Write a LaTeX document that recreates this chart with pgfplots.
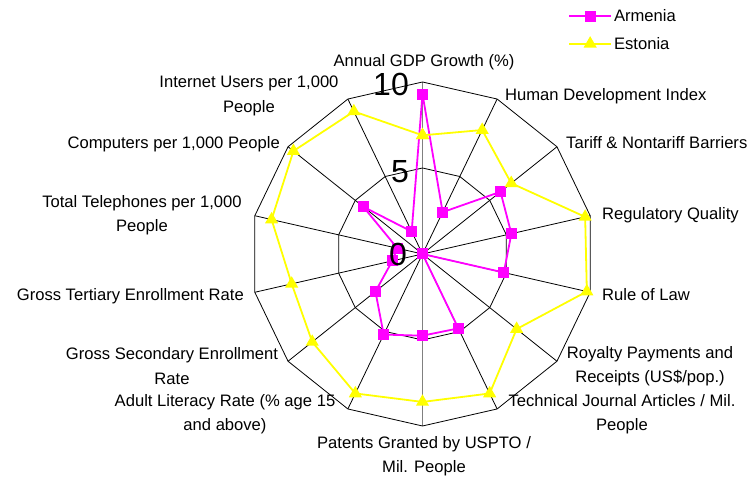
\documentclass[border=0pt]{standalone}
\usepackage{pgfplots}
\pgfplotsset{compat=1.18}
\usepackage{fontspec}
\setmainfont{Liberation Sans}
\definecolor{arm}{RGB}{255,0,255}
\definecolor{est}{RGB}{255,255,0}
\definecolor{axgray}{RGB}{128,128,128}
\newcommand{\lbl}{\fontsize{16.6bp}{24.5bp}\selectfont}
\newcommand{\lgd}{\fontsize{16.6bp}{20bp}\selectfont}
\newcommand{\bignum}{\fontsize{32bp}{32bp}\selectfont}

\pgfplotstableread{
ang r
90 9.3
64.2857 2.7
38.5714 5.8
12.8571 5.3
-12.8571 4.85
-38.5714 0.0
-64.2857 4.8
-90 4.75
-115.7143 5.2
-141.4286 3.5
-167.1429 1.8
-192.8571 1.5
-218.5714 4.4
-244.2857 1.45
-270 9.3
}\armenia

\pgfplotstableread{
ang r
90 6.9
64.2857 8.0
38.5714 6.6
12.8571 9.7
-12.8571 9.8
-38.5714 7.0
-64.2857 9.0
-90 8.6
-115.7143 9.0
-141.4286 8.2
-167.1429 7.8
-192.8571 9.0
-218.5714 9.6
-244.2857 9.2
-270 6.9
}\estonia

\begin{document}
\begin{tikzpicture}
\begin{axis}[
  hide axis,
  x=17.2bp, y=17.2bp,
  xmin=-10.5, xmax=10.5, ymin=-10.5, ymax=10.5,
  clip=false,
  legend style={at={(rel axis cs:0.903,1.183)}, anchor=north west,
    draw=none, fill=none, font=\lgd, row sep=10bp, inner sep=0pt},
  legend cell align=left,
  legend image code/.code={\draw[mark repeat=2,mark phase=2,#1] plot coordinates {(0bp,0bp) (21bp,0bp) (42bp,0bp)};},
]
% spokes
\addplot[forget plot, black, line width=0.8bp, data cs=polar] coordinates {(0,0) (64.2857,10)};
\addplot[forget plot, black, line width=0.8bp, data cs=polar] coordinates {(0,0) (38.5714,10)};
\addplot[forget plot, black, line width=0.8bp, data cs=polar] coordinates {(0,0) (12.8571,10)};
\addplot[forget plot, black, line width=0.8bp, data cs=polar] coordinates {(0,0) (-12.8571,10)};
\addplot[forget plot, black, line width=0.8bp, data cs=polar] coordinates {(0,0) (-38.5714,10)};
\addplot[forget plot, black, line width=0.8bp, data cs=polar] coordinates {(0,0) (-64.2857,10)};
\addplot[forget plot, black, line width=0.8bp, data cs=polar] coordinates {(0,0) (-115.7143,10)};
\addplot[forget plot, black, line width=0.8bp, data cs=polar] coordinates {(0,0) (-141.4286,10)};
\addplot[forget plot, black, line width=0.8bp, data cs=polar] coordinates {(0,0) (-167.1429,10)};
\addplot[forget plot, black, line width=0.8bp, data cs=polar] coordinates {(0,0) (-192.8571,10)};
\addplot[forget plot, black, line width=0.8bp, data cs=polar] coordinates {(0,0) (-218.5714,10)};
\addplot[forget plot, black, line width=0.8bp, data cs=polar] coordinates {(0,0) (-244.2857,10)};
\addplot[forget plot, axgray, line width=1.6bp, data cs=polar] coordinates {(-90,10) (0,0) (90,10)};
% rings
\addplot[forget plot, black, line width=0.8bp, data cs=polar] coordinates {
(90,5) (64.2857,5) (38.5714,5) (12.8571,5) (-12.8571,5) (-38.5714,5) (-64.2857,5) (-90,5)
(-115.7143,5) (-141.4286,5) (-167.1429,5) (-192.8571,5) (-218.5714,5) (-244.2857,5) (-270,5)};
\addplot[forget plot, black, line width=0.8bp, data cs=polar] coordinates {
(90,10) (64.2857,10) (38.5714,10) (12.8571,10) (-12.8571,10) (-38.5714,10) (-64.2857,10) (-90,10)
(-115.7143,10) (-141.4286,10) (-167.1429,10) (-192.8571,10) (-218.5714,10) (-244.2857,10) (-270,10)};
% data
\addplot[arm, line width=1.8bp, data cs=polar, mark=square*, mark size=4.6bp,
  mark options={solid, fill=arm, draw=arm}] table[x=ang, y=r] {\armenia};
\addlegendentry{Armenia}
\addplot[est, line width=1.8bp, data cs=polar, mark=triangle*, mark size=5.8bp,
  mark options={solid, fill=est, draw=est}] table[x=ang, y=r] {\estonia};
\addlegendentry{Estonia}
\coordinate (c) at (axis cs:0,0);
\end{axis}
\begin{scope}[shift={(c)}]
\begin{scope}[x=1bp, y=-1bp, shift={(-422.5,-254)}]
\useasboundingbox (0,0) rectangle (748,479);
\tikzset{every node/.style={inner sep=0pt, font=\lbl}}
\node at (424,62) {Annual GDP Growth (\%)};
\node[anchor=west] at (505,96) {Human Development Index};
\node[anchor=west] at (566,143) {Tariff \& Nontariff Barriers};
\node[anchor=west] at (602,215) {Regulatory Quality};
\node[anchor=west] at (602,295) {Rule of Law};
\node[align=center] at (650,366) {Royalty Payments and\\Receipts (US\$/pop.)};
\node[align=center] at (622,414) {Technical Journal Articles / Mil.\\People};
\node[align=center] at (424,456) {Patents Granted by USPTO /\\Mil. People};
\node[align=center] at (225,414) {Adult Literacy Rate (\% age 15\\and above)};
\node[align=center] at (172,366) {Gross Secondary Enrollment\\Rate};
\node[anchor=east] at (244,296) {Gross Tertiary Enrollment Rate};
\node[align=center] at (142,215) {Total Telephones per 1,000\\People};
\node[anchor=east] at (280,144) {Computers per 1,000 People};
\node[align=center] at (249,96) {Internet Users per 1,000\\People};
\node[anchor=east, font=\bignum] at (409,84) {10};
\node[anchor=east, font=\bignum] at (409,172) {5};
\node[anchor=east, font=\bignum] at (407,254) {0};
\end{scope}
\end{scope}
\end{tikzpicture}
\end{document}
